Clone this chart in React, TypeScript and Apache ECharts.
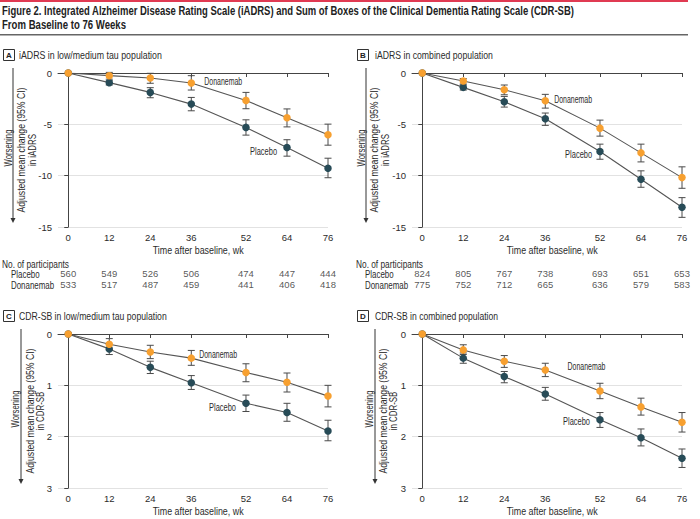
import React, { useEffect, useRef } from "react";
import * as echarts from "echarts";

// ---- data ----
const weeks = [0, 12, 24, 36, 52, 64, 76];

// Panel A: iADRS, low/medium tau
const aPlaceboMean = [0, -0.94, -1.89, -3.03, -5.3, -7.26, -9.27];
const aPlaceboLow = [0, -1.17, -2.41, -3.68, -6.05, -8.1, -10.2];
const aPlaceboHigh = [0, -0.75, -1.43, -2.38, -4.56, -6.5, -8.3];
const aDonaMean = [0, -0.26, -0.49, -0.98, -2.67, -4.36, -6.02];
const aDonaLow = [0, -0.6, -1.0, -1.66, -3.48, -5.25, -7.03];
const aDonaHigh = [0, 0.06, -0.03, -0.26, -1.89, -3.5, -4.98];

// Panel B: iADRS, combined
const bPlaceboMean = [0, -1.4, -2.8, -4.46, -7.65, -10.35, -13.08];
const bPlaceboLow = [0, -1.66, -3.32, -5.1, -8.4, -11.13, -14.06];
const bPlaceboHigh = [0, -1.17, -2.28, -3.9, -6.93, -9.53, -12.14];
const bDonaMean = [0, -0.78, -1.63, -2.7, -5.37, -7.78, -10.19];
const bDonaLow = [0, -1.07, -2.12, -3.42, -6.15, -8.66, -11.23];
const bDonaHigh = [0, -0.55, -1.17, -2.08, -4.59, -6.93, -9.14];

// Panel C: CDR-SB, low/medium tau
const cPlaceboMean = [0, 0.29, 0.65, 0.95, 1.35, 1.53, 1.89];
const cPlaceboLow = [0, 0.2, 0.53, 0.81, 1.19, 1.35, 1.68];
const cPlaceboHigh = [0, 0.4, 0.77, 1.08, 1.51, 1.7, 2.08];
const cDonaMean = [0, 0.2, 0.35, 0.47, 0.75, 0.94, 1.21];
const cDonaLow = [0, 0.09, 0.22, 0.32, 0.58, 0.76, 1.0];
const cDonaHigh = [0, 0.31, 0.48, 0.61, 0.93, 1.13, 1.42];

// Panel D: CDR-SB, combined
const dPlaceboMean = [0, 0.47, 0.83, 1.17, 1.67, 2.02, 2.42];
const dPlaceboLow = [0, 0.37, 0.73, 1.04, 1.53, 1.85, 2.24];
const dPlaceboHigh = [0, 0.57, 0.95, 1.29, 1.82, 2.18, 2.6];
const dDonaMean = [0, 0.31, 0.53, 0.7, 1.11, 1.42, 1.72];
const dDonaLow = [0, 0.21, 0.42, 0.57, 0.96, 1.25, 1.53];
const dDonaHigh = [0, 0.4, 0.65, 0.83, 1.26, 1.58, 1.91];

// Participants
const tableRows = ["Placebo", "Donanemab"];
const aPlaceboN = [560, 549, 526, 506, 474, 447, 444];
const aDonaN = [533, 517, 487, 459, 441, 406, 418];
const bPlaceboN = [824, 805, 767, 738, 693, 651, 653];
const bDonaN = [775, 752, 712, 665, 636, 579, 583];

const iadrsTicks = [0, -5, -10, -15];
const cdrTicks = [0, 1, 2, 3];

const titleLine1 =
  "Figure 2. Integrated Alzheimer Disease Rating Scale (iADRS) and Sum of Boxes of the Clinical Dementia Rating Scale (CDR-SB)";
const titleLine2 = "From Baseline to 76 Weeks";
const panelTitles = [
  "iADRS in low/medium tau population",
  "iADRS in combined population",
  "CDR-SB in low/medium tau population",
  "CDR-SB in combined population",
];
const panelLetters = ["A", "B", "C", "D"];
const xTitle = "Time after baseline, wk";
const yTitle1 = "Adjusted mean change (95% CI)";
const yTitle2 = ["in iADRS", "in iADRS", "in CDR-SB", "in CDR-SB"];
const worsening = "Worsening";
const tableHeader = "No. of participants";
const seriesNames = ["Placebo", "Donanemab"];

// ---- style / layout ----
const FONT = "'Liberation Sans', Arial, sans-serif";
const ORANGE = "#f7a030";
const TEAL = "#274b57";
const LINE = "#555555";
const TXT = "#2b2b2b";
const SQ = 0.72; // horizontal condensing of texts

const panels = [
  { pm: aPlaceboMean, pl: aPlaceboLow, ph: aPlaceboHigh, dm: aDonaMean, dl: aDonaLow, dh: aDonaHigh, donaLab: [39.8, -0.8], placLab: [53.2, -7.6] },
  { pm: bPlaceboMean, pl: bPlaceboLow, ph: bPlaceboHigh, dm: bDonaMean, dl: bDonaLow, dh: bDonaHigh, donaLab: [38.6, -2.55], placLab: [41.8, -7.9] },
  { pm: cPlaceboMean, pl: cPlaceboLow, ph: cPlaceboHigh, dm: cDonaMean, dl: cDonaLow, dh: cDonaHigh, donaLab: [38.3, 0.39], placLab: [41.2, 1.42] },
  { pm: dPlaceboMean, pl: dPlaceboLow, ph: dPlaceboHigh, dm: dDonaMean, dl: dDonaLow, dh: dDonaHigh, donaLab: [42.5, 0.64], placLab: [41.2, 1.7] },
];

const gridBoxes = [
  { left: 58, top: 73 },
  { left: 412, top: 73 },
  { left: 58, top: 334 },
  { left: 412, top: 334 },
];
const GW = 270;
const GH = 154;

let measureCtx: CanvasRenderingContext2D | null = null;
function measure(text: string, font: string) {
  if (!measureCtx) measureCtx = document.createElement("canvas").getContext("2d");
  if (!measureCtx) return text.length * 6;
  measureCtx.font = font;
  return measureCtx.measureText(text).width;
}

function txt(
  text: string,
  x: number,
  y: number,
  o: { size?: number; bold?: boolean; width?: number; align?: string; rot?: boolean; color?: string } = {}
) {
  const size = o.size ?? 11;
  const font = `${o.bold ? "bold " : ""}${size}px ${FONT}`;
  const sx = o.width ? o.width / measure(text, font) : SQ;
  return {
    type: "text",
    x,
    y,
    scaleX: sx,
    rotation: o.rot ? Math.PI / 2 : 0,
    silent: true,
    style: {
      text,
      font,
      fill: o.color ?? TXT,
      align: o.align ?? "left",
      verticalAlign: "middle",
    },
  };
}

function errorRender(params: any, api: any) {
  const x = api.value(0);
  const lo = api.value(1);
  const hi = api.value(2);
  const p1 = api.coord([x, lo]);
  const p2 = api.coord([x, hi]);
  const w = 3.5;
  const st = { stroke: "#4a4a4a", lineWidth: 1 };
  return {
    type: "group",
    children: [
      { type: "line", shape: { x1: p1[0], y1: p1[1], x2: p2[0], y2: p2[1] }, style: st },
      { type: "line", shape: { x1: p1[0] - w, y1: p1[1], x2: p1[0] + w, y2: p1[1] }, style: st },
      { type: "line", shape: { x1: p2[0] - w, y1: p2[1], x2: p2[0] + w, y2: p2[1] }, style: st },
    ],
  };
}

function buildOption() {
  const grid: any[] = [];
  const xAxis: any[] = [];
  const yAxis: any[] = [];
  const series: any[] = [];

  panels.forEach((p, i) => {
    const g = gridBoxes[i];
    grid.push({ left: g.left, top: g.top, width: GW, height: GH });
    xAxis.push({
      gridIndex: i,
      type: "value",
      min: -3,
      max: 76,
      axisLine: { show: true, lineStyle: { color: "#444", width: 1 } },
      axisTick: { show: true, customValues: weeks, length: 4, lineStyle: { color: "#444" } },
      axisLabel: { customValues: weeks, fontFamily: FONT, fontSize: 9.5, color: TXT, margin: 5 },
      splitLine: { show: false },
    });
    const isIadrs = i < 2;
    yAxis.push({
      gridIndex: i,
      type: "value",
      min: isIadrs ? -15 : 0,
      max: isIadrs ? 0 : 3,
      interval: isIadrs ? 5 : 1,
      inverse: !isIadrs,
      axisLine: { show: true, lineStyle: { color: "#444", width: 1 } },
      axisTick: { show: true, length: 4, lineStyle: { color: "#444" } },
      axisLabel: {
        fontFamily: FONT,
        fontSize: 9.5,
        color: TXT,
        margin: 6,
        customValues: isIadrs ? iadrsTicks : cdrTicks,
      },
      splitLine: { show: true, lineStyle: { color: "#e2e2e2", width: 1 } },
    });

    const errP = weeks.map((w, k) => [w, p.pl[k], p.ph[k]]).filter((d) => d[1] !== d[2]);
    const errD = weeks.map((w, k) => [w, p.dl[k], p.dh[k]]).filter((d) => d[1] !== d[2]);
    series.push({
      type: "custom",
      xAxisIndex: i,
      yAxisIndex: i,
      data: errP,
      encode: { x: 0, y: [1, 2] },
      renderItem: errorRender,
      z: 2,
    });
    series.push({
      type: "custom",
      xAxisIndex: i,
      yAxisIndex: i,
      data: errD,
      encode: { x: 0, y: [1, 2] },
      renderItem: errorRender,
      z: 2,
    });
    series.push({
      type: "line",
      name: seriesNames[0],
      xAxisIndex: i,
      yAxisIndex: i,
      data: weeks.map((w, k) => [w, p.pm[k]]),
      symbol: "circle",
      symbolSize: 7.5,
      lineStyle: { color: LINE, width: 1.1 },
      itemStyle: { color: TEAL },
      z: 3,
    });
    series.push({
      type: "line",
      name: seriesNames[1],
      xAxisIndex: i,
      yAxisIndex: i,
      data: weeks.map((w, k) => [w, p.dm[k]]),
      symbol: "circle",
      symbolSize: 7.5,
      lineStyle: { color: LINE, width: 1.1 },
      itemStyle: { color: ORANGE },
      z: 4,
    });
  });

  // participant tables (grids 4 and 5)
  const tables = [
    { left: 58, p: aPlaceboN, d: aDonaN },
    { left: 412, p: bPlaceboN, d: bDonaN },
  ];
  tables.forEach((t, j) => {
    const gi = 4 + j;
    grid.push({ left: t.left, top: 268, width: GW, height: 22 });
    xAxis.push({ gridIndex: gi, type: "value", min: -3, max: 76, show: false });
    yAxis.push({ gridIndex: gi, type: "category", data: tableRows, inverse: true, show: false });
    const data: any[] = [];
    weeks.forEach((w, k) => {
      data.push([w, tableRows[0], t.p[k]]);
      data.push([w, tableRows[1], t.d[k]]);
    });
    series.push({
      type: "scatter",
      xAxisIndex: gi,
      yAxisIndex: gi,
      data,
      symbolSize: 0,
      silent: true,
      label: {
        show: true,
        position: "inside",
        formatter: (prm: any) => String(prm.value[2]),
        fontFamily: FONT,
        fontSize: 9.5,
        color: TXT,
      },
    });
  });

  return {
    animation: false,
    backgroundColor: "#fff",
    textStyle: { fontFamily: FONT },
    grid,
    xAxis,
    yAxis,
    series,
  };
}

function buildGraphic(chart: any) {
  const g: any[] = [];
  // header
  g.push({ type: "rect", shape: { x: 0, y: 0, width: 688, height: 2 }, style: { fill: "#e03a52" } });
  g.push(txt(titleLine1, 2, 11, { size: 12, bold: true, width: 573, color: "#222" }));
  g.push(txt(titleLine2, 2, 25, { size: 12, bold: true, width: 124, color: "#222" }));
  g.push({ type: "rect", shape: { x: 0, y: 34, width: 688, height: 1.5 }, style: { fill: "#666" } });

  // panel labels
  const labelPos = [
    { bx: 3, by: 49, tx: 19, w: 143 },
    { bx: 357, by: 49, tx: 375, w: 118 },
    { bx: 3, by: 310, tx: 19, w: 148 },
    { bx: 357, by: 310, tx: 375, w: 123 },
  ];
  labelPos.forEach((lp, i) => {
    g.push({
      type: "rect",
      shape: { x: lp.bx + 0.5, y: lp.by + 0.5, width: 11, height: 11 },
      style: { fill: "#fff", stroke: "#333", lineWidth: 1 },
    });
    g.push({
      type: "text",
      x: lp.bx + 6,
      y: lp.by + 6.5,
      style: { text: panelLetters[i], font: `bold 8px ${FONT}`, fill: "#222", align: "center", verticalAlign: "middle" },
    });
    g.push(txt(panelTitles[i], lp.tx, lp.by + 6, { size: 11, width: lp.w }));
  });

  // axis titles and worsening arrows
  const side = [
    { wx: 8, ax: 13, t1: 21, t2: 32 },
    { wx: 361, ax: 366, t1: 374, t2: 385 },
    { wx: 15, ax: 21, t1: 30, t2: 40 },
    { wx: 369, ax: 375, t1: 383, t2: 393 },
  ];
  panels.forEach((p, i) => {
    const gb = gridBoxes[i];
    const s = side[i];
    const y1 = gb.top - 5;
    const y2 = gb.top + GH - 4;
    const cy = gb.top + GH / 2;
    g.push({ type: "line", shape: { x1: s.ax, y1, x2: s.ax, y2: y2 - 4 }, style: { stroke: "#333", lineWidth: 1 } });
    g.push({
      type: "polygon",
      shape: { points: [[s.ax - 2.5, y2 - 5], [s.ax + 2.5, y2 - 5], [s.ax, y2]] },
      style: { fill: "#333" },
    });
    g.push(txt(worsening, s.wx, cy - 2, { size: 11, rot: true, align: "center", width: 37 }));
    g.push(txt(yTitle1, s.t1, cy, { size: 11, rot: true, align: "center", width: 125 }));
    g.push(txt(yTitle2[i], s.t2, cy, { size: 11, rot: true, align: "center" }));

    // x-axis title centred over the data range
    const c = chart.convertToPixel({ xAxisIndex: i, yAxisIndex: i }, [38, 0]);
    g.push(txt(xTitle, c[0], gb.top + GH + 23, { size: 11, align: "center", width: 91 }));

    // series labels
    const dp = chart.convertToPixel({ xAxisIndex: i, yAxisIndex: i }, p.donaLab);
    g.push(txt(seriesNames[1], dp[0], dp[1], { size: 11, width: 38 }));
    const pp = chart.convertToPixel({ xAxisIndex: i, yAxisIndex: i }, p.placLab);
    g.push(txt(seriesNames[0], pp[0], pp[1], { size: 11, width: 27 }));
  });

  // table headers and row labels
  [
    { hx: 2, rx: 11 },
    { hx: 356, rx: 365 },
  ].forEach((t, j) => {
    g.push(txt(tableHeader, t.hx, 264, { size: 11, width: 67 }));
    const gi = 4 + j;
    tableRows.forEach((r) => {
      const pt = chart.convertToPixel({ xAxisIndex: gi, yAxisIndex: gi }, [0, r]);
      g.push(txt(r, t.rx, pt[1], { size: 11 }));
    });
  });
  return g;
}

export default function App() {
  const ref = useRef<HTMLDivElement>(null);
  useEffect(() => {
    if (!ref.current) return;
    const chart = echarts.init(ref.current, null, { renderer: "svg" });
    chart.setOption(buildOption() as any);
    chart.setOption({ graphic: buildGraphic(chart) } as any);
    return () => chart.dispose();
  }, []);
  return (
    <div
      ref={ref}
      style={{ position: "absolute", left: 0, top: 0, width: 700, height: 519, background: "#fff" }}
    />
  );
}
